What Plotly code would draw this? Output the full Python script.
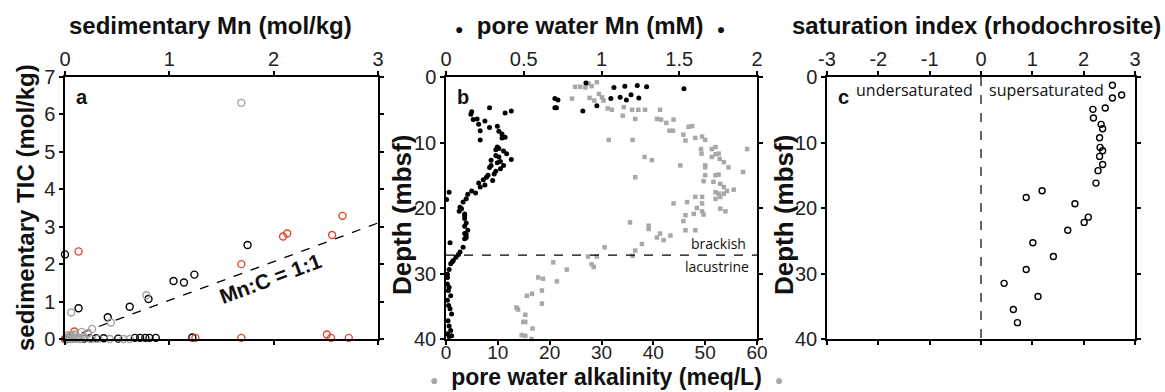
import plotly.graph_objects as go

# ---------------- Panel a: sedimentary Mn vs TIC ----------------
a_black_mn = [0.0, 0.13, 0.41, 0.62, 0.80, 1.04, 1.14, 1.24, 1.75, 1.22, 0.30, 0.37, 0.51,
              0.67, 0.72, 0.77, 0.81, 0.87, 0.0, 0.02, 0.05, 0.08, 0.12, 0.18, 0.24]
a_black_tic = [2.26, 0.82, 0.58, 0.86, 1.07, 1.55, 1.51, 1.72, 2.51, 0.04, 0.02, 0.02, 0.01,
               0.03, 0.03, 0.03, 0.03, 0.03, 0.0, 0.0, 0.02, 0.01, 0.02, 0.01, 0.02]
a_red_mn = [0.13, 0.09, 1.69, 2.09, 2.13, 2.56, 2.66, 2.51, 2.55, 2.72, 1.69, 1.43, 1.13,
            1.25, 0.0, 0.22, 0.05]
a_red_tic = [2.34, 0.20, 2.00, 2.74, 2.82, 2.78, 3.29, 0.12, 0.03, 0.03, 0.03, -0.02, -0.02,
             0.03, 0.0, 0.15, 0.08]
a_gray_mn = [1.69, 0.78, 0.06, 0.44, 0.26, 0.16, 0.43, 0.56, 0.62, 0.02, 0.04, 0.06, 0.08,
             0.10, 0.12, 0.14, 0.18, 0.22, 0.03, 0.07, 0.11, 0.25, 0.32, 0.09, 0.15, 0.05]
a_gray_tic = [6.31, 1.17, 0.71, 0.44, 0.27, 0.19, 0.0, 0.0, 0.0, 0.02, 0.05, 0.08, 0.02,
              0.10, 0.04, 0.0, 0.06, 0.15, 0.10, 0.0, 0.01, 0.0, 0.01, 0.12, 0.03, 0.0]
ratio_line_mn = [0.0, 3.0]
ratio_line_tic = [0.0, 3.1]

# ---------------- Panel b: pore water profiles ----------------
mn_depth = [0.9, 3.3, 3.5, 4.7, 4.7, 5.2, 4.4, 1.6, 1.4, 3.3, 3.1, 3.5, 2.7, 1.3, 3.2, 1.5, 1.8,
            4.7, 5.2, 5.5, 5.3, 5.7, 6.5, 6.4, 6.7, 7.2, 7.7, 7.5, 8.2, 8.3, 8.7, 9.3, 9.2, 9.6,
            10.7, 11.1, 11.3, 11.7, 12.6, 12.0, 12.2, 12.7, 13.1, 13.5, 13.5, 14.0, 14.4, 13.8,
            15.0, 15.8, 15.7, 16.2, 16.8, 17.4, 17.9, 17.7, 18.6, 19.1, 20.5, 20.1, 20.9, 21.6,
            22.3, 22.8, 23.4, 23.9, 24.5, 24.7, 25.3, 17.6, 18.7, 26.0, 26.7, 27.1, 27.5, 28.0,
            28.2, 28.5, 29.4, 30.6, 31.6, 32.6, 33.4, 34.1, 34.9, 36.2, 37.2, 38.0, 38.7, 39.2,
            39.6, 39.5, 30.1, 32.1, 35.4, 16.5, 15.3, 14.8, 12.9, 10.9, 21.2, 24.1, 19.9]
mn_conc = [0.90, 0.70, 0.72, 0.70, 0.71, 0.88, 0.97, 1.08, 1.15, 1.06, 1.12, 1.16, 1.19, 1.23,
           1.24, 1.29, 1.53,
           0.28, 0.42, 0.38, 0.165, 0.16, 0.175, 0.20, 0.25, 0.21, 0.28, 0.33, 0.22, 0.34, 0.36,
           0.36, 0.38, 0.22, 0.33, 0.32, 0.37, 0.39, 0.42, 0.32, 0.34, 0.29, 0.33, 0.29, 0.37,
           0.35, 0.32, 0.28, 0.27, 0.30, 0.24, 0.21, 0.22, 0.165, 0.14, 0.19, 0.13, 0.11, 0.085,
           0.10, 0.12, 0.12, 0.13, 0.12, 0.14, 0.12, 0.13, 0.12, 0.026, 0.02, 0.004, 0.11, 0.09,
           0.08, 0.064, 0.047, 0.04, 0.03, 0.02, 0.01, 0.009, 0.015, 0.03, 0.009, 0.017, 0.036,
           0.013, 0.02, 0.03, 0.01, 0.02, 0.036, 0.009, 0.02, 0.026, 0.25, 0.26, 0.31, 0.35,
           0.34, 0.12, 0.13, 0.09]
alk_depth = [1.5, 1.5, 1.6, 1.0, 0.8, 1.4, 3.3, 3.2, 3.6, 2.6, 3.1, 3.6, 4.8, 5.0, 4.6, 5.9,
             5.0, 5.0, 5.0, 5.0, 6.4, 6.5, 7.0, 6.5, 6.4, 8.2, 8.2, 8.8, 7.6, 7.5, 9.7, 9.3, 9.1,
             9.6, 10.7, 11.0, 11.0, 11.0, 11.7, 11.8, 11.7, 12.2, 12.5, 13.0, 13.5, 13.8, 13.5,
             12.2, 12.7, 9.6, 9.6, 13.8, 14.9, 15.0, 14.5, 15.0, 15.9, 16.0, 16.3, 16.8, 17.2,
             17.4, 17.6, 17.8, 17.8, 18.6, 18.3, 15.3, 18.3, 18.3, 19.1, 19.3, 19.3, 20.0, 20.1,
             20.5, 20.5, 21.1, 20.9, 21.0, 22.0, 23.4, 23.4, 22.2, 22.7, 23.2, 23.9, 24.5, 24.9,
             24.2, 25.5, 26.0, 26.5, 27.3, 27.4, 27.4, 28.3, 28.6, 29.0, 29.4, 31.2, 30.6, 30.8,
             32.6, 33.4, 33.1, 34.6, 35.2, 35.5, 36.3, 37.4, 37.4, 38.4, 39.4, 39.5, 40.0]
alk_conc = [24.9, 25.9, 26.9, 27.5, 29.1, 28.1, 24.3, 27.7, 28.6, 29.5, 30.1, 30.4, 31.2, 32.0,
            34.3, 34.1, 35.9, 37.1, 38.4, 41.3, 40.7, 41.5, 42.5, 43.9, 36.5, 43.1, 43.8, 45.8,
            46.8, 47.5, 46.2, 48.1, 49.4, 50.0, 52.0, 51.3, 58.1, 49.2, 49.3, 52.0, 52.6, 51.3,
            52.8, 53.6, 50.0, 54.5, 45.2, 38.3, 39.7, 31.4, 36.0, 50.0, 52.6, 52.0, 57.3, 50.0,
            49.7, 51.6, 52.9, 53.6, 55.5, 54.2, 52.0, 52.6, 53.6, 52.0, 52.9, 36.5, 48.1, 49.4,
            46.5, 49.4, 43.9, 48.4, 52.9, 53.9, 49.4, 46.2, 47.8, 49.7, 45.8, 46.2, 48.1, 35.5,
            39.1, 39.1, 41.3, 40.7, 42.0, 43.3, 37.8, 30.6, 36.5, 36.0, 27.4, 29.1, 20.7, 28.1,
            28.5, 23.3, 21.4, 17.8, 18.7, 18.5, 15.6, 16.6, 18.5, 13.6, 13.9, 15.3, 14.9, 15.3,
            16.7, 14.6, 15.3, 16.5]
boundary_depth = 27.2

# ---------------- Panel c: saturation index ----------------
si_depth = [1.27, 2.75, 3.2, 4.74, 4.94, 6.27, 7.23, 7.9, 9.27, 10.75, 11.26, 12.12, 13.35,
            14.3, 16.2, 17.37, 18.39, 19.36, 21.4, 22.2, 23.4, 25.3, 27.4, 29.4, 31.5, 33.5,
            35.5, 37.5]
si_value = [2.56, 2.74, 2.56, 2.42, 2.18, 2.19, 2.34, 2.37, 2.31, 2.32, 2.37, 2.31, 2.37, 2.28,
            2.24, 1.19, 0.88, 1.83, 2.09, 2.01, 1.69, 1.01, 1.41, 0.88, 0.45, 1.11, 0.63, 0.71]
si_ticks = [-3, -2, -1, 0, 1, 2, 3]
si_ticklabels = ["-3", "-2", "-1", "0", "1", "2", "3"]
neutral_si = [0, 0]
neutral_depth = [0, 40]

W, H = 1165, 392
FONT = "Liberation Sans, Arial, Helvetica, sans-serif"
SOFT = "Open Sans, Liberation Sans, sans-serif"
RED = "#e8452c"
GRAY_A = "#a3a3a3"
GRAY_B = "#a8a8a8"

def xd(l, r):
    return [l / W, r / W]

def px(xp, yp):
    return xp / W, 1 - yp / H

ydom = [1 - 339 / H, 1 - 77 / H]

fig = go.Figure()

open_marker = lambda c, s=7: dict(symbol="circle-open", size=s, color=c, line=dict(width=1.4, color=c))

fig.add_trace(go.Scatter(x=ratio_line_mn, y=ratio_line_tic, mode="lines",
                         line=dict(color="black", width=1.3, dash="dash"),
                         xaxis="x", yaxis="y", showlegend=False, hoverinfo="skip"))
fig.add_trace(go.Scatter(x=a_black_mn, y=a_black_tic, mode="markers", marker=open_marker("black"),
                         xaxis="x", yaxis="y", showlegend=False, cliponaxis=False))
fig.add_trace(go.Scatter(x=a_red_mn, y=a_red_tic, mode="markers", marker=open_marker(RED),
                         xaxis="x", yaxis="y", showlegend=False, cliponaxis=False))
fig.add_trace(go.Scatter(x=a_gray_mn, y=a_gray_tic, mode="markers", marker=open_marker(GRAY_A),
                         xaxis="x", yaxis="y", showlegend=False, cliponaxis=False))

fig.add_trace(go.Scatter(x=alk_conc, y=alk_depth, mode="markers",
                         marker=dict(symbol="square", size=4.5, color=GRAY_B),
                         xaxis="x2", yaxis="y2", showlegend=False, cliponaxis=False))
fig.add_trace(go.Scatter(x=mn_conc, y=mn_depth, mode="markers",
                         marker=dict(symbol="circle", size=5, color="black"),
                         xaxis="x3", yaxis="y2", showlegend=False, cliponaxis=False))

fig.add_trace(go.Scatter(x=neutral_si, y=neutral_depth, mode="lines",
                         line=dict(color="black", width=1.2, dash="dash"),
                         xaxis="x4", yaxis="y4", showlegend=False, hoverinfo="skip"))
fig.add_trace(go.Scatter(x=si_value, y=si_depth, mode="markers", marker=open_marker("black", 6),
                         xaxis="x4", yaxis="y4", showlegend=False, cliponaxis=False))

ax_common = dict(showline=True, linecolor="black", linewidth=1.5, ticks="outside",
                 ticklen=4, tickwidth=1.5, tickcolor="black", showgrid=False, zeroline=False,
                 automargin=False,
                 tickfont=dict(family=FONT, size=20, color="#222"))
TFONT = dict(family=FONT, size=24, color="#111")
DFONT = dict(family=FONT, size=26, color="#111")

def title_ann(text, xp, yp, font, angle=0):
    x, y = px(xp, yp)
    return dict(text=text, xref="paper", yref="paper", x=x, y=y, xanchor="center",
                yanchor="middle", showarrow=False, font=font, textangle=angle)

bullet_gray = "<span style='color:#a8a8a8;font-size:14px'>●</span>"
bullet_black = "<span style='font-size:14px'>●</span>"

fig.update_layout(
    template="none",
    width=W, height=H, margin=dict(l=0, r=0, t=0, b=0, autoexpand=False),
    paper_bgcolor="white", plot_bgcolor="white",
    xaxis=dict(ax_common, domain=xd(65, 378), anchor="y", side="top", range=[0, 3], dtick=1,
               mirror="ticks", ticklabelstandoff=-3),
    yaxis=dict(ax_common, domain=ydom, anchor="x", range=[0, 7], dtick=1, mirror="ticks"),
    xaxis2=dict(ax_common, domain=xd(446, 757), anchor="y2", side="bottom", range=[0, 60],
                dtick=10, ticklabelstandoff=-9,
                tickfont=dict(family=FONT, size=19, color="#222")),
    xaxis3=dict(ax_common, overlaying="x2", anchor="y2", side="top", range=[0, 2], dtick=0.5,
                ticklabelstandoff=-3),
    yaxis2=dict(ax_common, domain=ydom, anchor="x2", range=[40, 0], dtick=10, mirror="ticks"),
    xaxis4=dict(ax_common, domain=xd(827, 1135), anchor="y4", side="top", range=[-3, 3],
                tickvals=si_ticks, ticktext=si_ticklabels, mirror="ticks", ticklabelstandoff=-3),
    yaxis4=dict(ax_common, domain=ydom, anchor="x4", range=[40, 0], dtick=10, mirror="ticks"),
    shapes=[dict(type="line", xref="x2 domain", yref="y2", x0=0, x1=1,
                 y0=boundary_depth, y1=boundary_depth,
                 line=dict(color="black", width=1.3, dash="dash"))],
    annotations=[
        title_ann("<b>sedimentary Mn (mol/kg)</b>", 210, 25, TFONT),
        title_ann(bullet_black + "  <b>pore water Mn (mM)</b>  " + bullet_black, 590, 25, TFONT),
        title_ann("<b>saturation index (rhodochrosite)</b>", 976, 25, TFONT),
        title_ann("<b>sedimentary TIC (mol/kg)</b>", 25, 208, TFONT, -90),
        title_ann("<b>Depth (mbsf)</b>", 402, 215, DFONT, -90),
        title_ann("<b>Depth (mbsf)</b>", 784, 215, DFONT, -90),
        title_ann(bullet_gray + "  <b>pore water alkalinity (meq/L)</b>  " + bullet_gray, 606, 377,
                  dict(family=FONT, size=23, color="#111")),
        dict(text="<b>a</b>", xref="x domain", yref="y domain", x=0.028, y=0.975,
             xanchor="left", yanchor="top", showarrow=False, font=dict(family=FONT, size=20, color="#111")),
        dict(text="<b>b</b>", xref="x2 domain", yref="y2 domain", x=0.028, y=0.975,
             xanchor="left", yanchor="top", showarrow=False, font=dict(family=FONT, size=20, color="#111")),
        dict(text="<b>c</b>", xref="x4 domain", yref="y4 domain", x=0.03, y=0.975,
             xanchor="left", yanchor="top", showarrow=False, font=dict(family=FONT, size=20, color="#111")),
        dict(text="undersaturated", xref="x4", yref="y4", x=-0.12, y=2.0,
             xanchor="right", yanchor="middle", showarrow=False, font=dict(family=SOFT, size=16, color="#111")),
        dict(text="supersaturated", xref="x4", yref="y4", x=0.12, y=2.0,
             xanchor="left", yanchor="middle", showarrow=False, font=dict(family=SOFT, size=16, color="#111")),
        dict(text="brackish", xref="x2", yref="y2", x=58.3, y=25.4,
             xanchor="right", yanchor="middle", showarrow=False, font=dict(family=SOFT, size=14, color="#111")),
        dict(text="lacustrine", xref="x2", yref="y2", x=58.8, y=29.0,
             xanchor="right", yanchor="middle", showarrow=False, font=dict(family=SOFT, size=14, color="#111")),
        dict(text="<b>Mn:C = 1:1</b>", xref="x", yref="y", x=1.97, y=1.61, textangle=-20.5,
             showarrow=False, font=dict(family=FONT, size=21, color="#111")),
    ],
)

fig.write_html("out.html")
